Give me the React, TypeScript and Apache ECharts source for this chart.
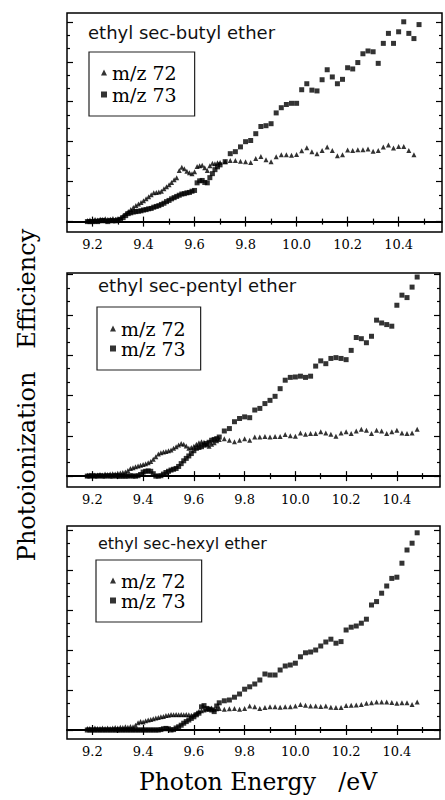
import React, { useEffect, useRef } from "react";
import * as echarts from "echarts";

// Photon energy grid (eV)
const ENERGY = [
  9.18, 9.19, 9.2, 9.21, 9.22, 9.23, 9.24, 9.25, 9.26, 9.27, 9.28, 9.29, 9.3, 9.31,
  9.32, 9.33, 9.34, 9.35, 9.36, 9.37, 9.38, 9.39, 9.4, 9.41,
  9.42, 9.43, 9.44, 9.45, 9.46, 9.47, 9.48, 9.49, 9.5, 9.51,
  9.52, 9.53, 9.54, 9.55, 9.56, 9.57, 9.58, 9.59, 9.6, 9.61,
  9.62, 9.63, 9.64, 9.65, 9.66, 9.67, 9.68, 9.69, 9.7,
  9.72, 9.74, 9.76, 9.78, 9.8, 9.82, 9.84, 9.86, 9.88, 9.9,
  9.92, 9.94, 9.96, 9.98, 10.0, 10.02, 10.04, 10.06, 10.08, 10.1,
  10.12, 10.14, 10.16, 10.18, 10.2, 10.22, 10.24, 10.26, 10.28, 10.3,
  10.32, 10.34, 10.36, 10.38, 10.4, 10.42, 10.44, 10.46, 10.48,
];

// ethyl sec-butyl ether
const BUTYL_72 = [
  0.03, 0.04, 0.03, 0.05, 0.04, 0.06, 0.05, 0.07, 0.05, 0.06, 0.08, 0.06, 0.08, 0.1,
  0.15, 0.2, 0.25, 0.3, 0.35, 0.4, 0.44, 0.48, 0.52, 0.57,
  0.62, 0.67, 0.72, 0.73, 0.74, 0.76, 0.82, 0.87, 0.92, 0.98,
  1.05, 1.1, 1.28, 1.36, 1.32, 1.26, 1.22, 1.2, 1.25, 1.38,
  1.4, 1.41, 1.35, 1.28, 1.4, 1.46, 1.45, 1.47, 1.48,
  1.5, 1.53, 1.53, 1.51, 1.5, 1.48, 1.58, 1.63, 1.55, 1.5,
  1.62, 1.67, 1.67, 1.66, 1.68, 1.77, 1.85, 1.75, 1.7, 1.78,
  1.87, 1.78, 1.65, 1.67, 1.79, 1.78, 1.8, 1.8, 1.82, 1.76,
  1.78, 1.87, 1.92, 1.84, 1.88, 1.88, 1.78, 1.67, null,
];
const BUTYL_73 = [
  0.0, 0.0, 0.0, 0.01, 0.0, 0.02, 0.03, 0.02, 0.0, 0.03, 0.02, 0.02, 0.04, 0.05,
  0.1, 0.15, 0.2, 0.22, 0.24, 0.25, 0.26, 0.27, 0.29, 0.3,
  0.32, 0.33, 0.36, 0.38, 0.4, 0.43, 0.46, 0.5, 0.53, 0.57,
  0.6, 0.63, 0.66, 0.69, 0.7, 0.72, 0.73, 0.76, 0.78, 0.97,
  1.02, 1.03, 0.98, 0.97, 1.1, 1.2, 1.3, 1.37, 1.42,
  1.5, 1.7, 1.75, 1.87, 2.0, 2.03, 2.2, 2.38, 2.4, 2.45,
  2.72, 2.85, 2.93, 2.96, 2.96, 3.3, 3.45, 3.29, 3.27, 3.55,
  3.8, 3.62, 3.45, 3.56, 3.85, 3.82, 3.98, 4.2, 4.27, 4.25,
  3.96, 4.46, 4.71, 4.46, 4.75, 5.0, 4.71, 4.58, 4.93,
];

// ethyl sec-pentyl ether
const PENTYL_72 = [
  0.02, 0.03, 0.02, 0.03, 0.03, 0.04, 0.03, 0.05, 0.04, 0.05, 0.06, 0.05, 0.07, 0.08,
  0.09, 0.1, 0.14, 0.19, 0.21, 0.23, 0.25, 0.27, 0.29, 0.31,
  0.33, 0.36, 0.42, 0.48, 0.55, 0.58, 0.6, 0.61, 0.63, 0.65,
  0.69, 0.73, 0.77, 0.81, 0.79, 0.75, 0.69, 0.71, 0.74, 0.79,
  0.83, 0.85, 0.84, 0.78, 0.74, 0.79, 0.83, 0.88, 0.91,
  0.93, 0.89, 0.85, 0.89, 0.93, 0.89, 0.97, 0.97, 0.98, 0.97,
  0.98, 0.98, 1.03, 1.0, 0.99, 1.07, 1.04, 1.06, 1.06, 1.1,
  1.07, 1.04, 0.99, 1.07, 1.1, 1.06, 1.12, 1.16, 1.14, 1.06,
  1.14, 1.12, 1.06, 1.1, 1.14, 1.07, 1.06, 1.07, 1.16,
];
const PENTYL_73 = [
  0, 0, 0.01, 0, 0, 0.01, 0, 0, 0.01, 0, 0, 0.01, 0, 0,
  0, 0, 0, 0.01, 0, 0, 0.01, 0.04, 0.1, 0.12,
  0.13, 0.12, 0.06, 0.0, 0.0, 0.01, 0.05, 0.09, 0.12, 0.15,
  0.17, 0.19, 0.24, 0.31, 0.38, 0.44, 0.5, 0.56, 0.63, 0.69,
  0.71, 0.73, 0.77, 0.81, 0.84, 0.89, 0.91, 0.93, 0.97,
  1.12, 1.18, 1.35, 1.43, 1.47, 1.45, 1.64, 1.68, 1.8, 1.88,
  1.98, 2.17, 2.38, 2.45, 2.46, 2.48, 2.45, 2.48, 2.73, 2.86,
  2.79, 2.92, 2.94, 2.92, 2.89, 3.12, 3.44, 3.41, 3.31, 3.47,
  3.87, 3.8, 3.76, 3.72, 4.24, 4.49, 4.43, 4.69, 4.94,
];

// ethyl sec-hexyl ether
const HEXYL_72 = [
  0.04, 0.04, 0.04, 0.05, 0.04, 0.04, 0.05, 0.04, 0.05, 0.04, 0.05, 0.06, 0.05, 0.07,
  0.06, 0.08, 0.07, 0.09, 0.08, 0.12, 0.18, 0.21, 0.2, 0.23,
  0.25, 0.26, 0.28, 0.3, 0.31, 0.33, 0.34, 0.36, 0.37, 0.39,
  0.38, 0.39, 0.38, 0.39, 0.38, 0.39, 0.38, 0.37, 0.38, 0.42,
  0.46, 0.48, 0.5, 0.52, 0.54, 0.55, 0.52, 0.53, 0.54,
  0.52, 0.53, 0.54, 0.52, 0.54, 0.6, 0.58, 0.54, 0.56, 0.58,
  0.58, 0.57, 0.58, 0.58, 0.6, 0.64, 0.62, 0.6, 0.6, 0.59,
  0.6, 0.57, 0.56, 0.56, 0.61, 0.62, 0.625, 0.64, 0.67, 0.68,
  0.7, 0.7, 0.7, 0.69, 0.67, 0.68, 0.68, 0.64, 0.7,
];
const HEXYL_73 = [
  0, 0, 0, 0, 0, 0, 0, 0, 0, 0, 0, 0, 0, 0,
  0, 0, 0, 0, 0, 0, 0, 0, 0, 0,
  0, 0, 0, 0, 0, 0.01, 0.03, 0.04, 0.03, 0.0,
  0.01, 0.05, 0.08, 0.12, 0.17, 0.21, 0.25, 0.29, 0.33, 0.38,
  0.42, 0.58, 0.61, 0.54, 0.52, 0.5, 0.46, 0.6, 0.68,
  0.73, 0.75, 0.82, 0.9, 1.02, 1.08, 1.15, 1.25, 1.4, 1.375,
  1.375, 1.5, 1.6, 1.625, 1.67, 1.83, 1.93, 1.95, 2.0, 2.1,
  2.2, 2.27, 2.17, 2.21, 2.5, 2.57, 2.6, 2.67, 2.77, 3.125,
  3.21, 3.42, 3.6, 3.79, 3.82, 4.17, 4.5, 4.67, 4.93,
];

const TITLES = ["ethyl sec-butyl ether", "ethyl sec-pentyl ether", "ethyl sec-hexyl ether"];
const SERIES_NAMES = ["m/z 72", "m/z 73"];
const X_MAJOR_TICKS = [9.2, 9.4, 9.6, 9.8, 10.0, 10.2, 10.4];
const X_MINOR_TICKS = [9.3, 9.5, 9.7, 9.9, 10.1, 10.3, 10.5];
const Y_MAJOR_TICKS = [0, 1, 2, 3, 4, 5];
const Y_MINOR_TICKS = [0.333, 0.667, 1.333, 1.667, 2.333, 2.667, 3.333, 3.667, 4.333, 4.667];
const X_AXIS_TITLE = "Photon Energy   /eV";
const Y_AXIS_TITLE = "Photoionization   Efficiency";

const PANEL_DATA = [
  [BUTYL_72, BUTYL_73],
  [PENTYL_72, PENTYL_73],
  [HEXYL_72, HEXYL_73],
];

// layout (pixels)
const LAYOUT = [
  { left: 67, top: 13, width: 375, height: 219, yMin: -0.26, yMax: 5.22, tL: 88, tT: 23, tS: 18, lL: 89, lT: 52, lPad: [11, 18, 12, 12], lGap: 3 },
  { left: 67, top: 273, width: 373, height: 214, yMin: -0.27, yMax: 5.04, tL: 98, tT: 276, tS: 18, lL: 97, lT: 307, lPad: [12, 15, 12, 13], lGap: 1 },
  { left: 67, top: 526, width: 373, height: 213, yMin: -0.225, yMax: 5.1, tL: 98, tT: 535, tS: 16, lL: 96, lT: 560, lPad: [11, 16, 12, 14], lGap: 1 },
];
const X_MIN = 9.1;
const X_MAX = 10.57;

function pairs(values: (number | null)[]) {
  const out: number[][] = [];
  values.forEach((v, i) => {
    if (v !== null && v !== undefined) out.push([ENERGY[i], v]);
  });
  return out;
}

export default function App() {
  const ref = useRef<HTMLDivElement>(null);
  useEffect(() => {
    if (!ref.current) return;
    const chart = echarts.init(ref.current, undefined, { renderer: "svg" });
    const tickStyle = { color: "#000", width: 1.2 };
    const grid: any[] = [];
    const xAxis: any[] = [];
    const yAxis: any[] = [];
    const series: any[] = [];
    const title: any[] = [];
    const legend: any[] = [];
    LAYOUT.forEach((L, p) => {
      grid.push({
        left: L.left, top: L.top, width: L.width, height: L.height,
        show: true, borderColor: "#000", borderWidth: 1.5, backgroundColor: "transparent",
      });
      const xBase = { type: "value", gridIndex: p, min: X_MIN, max: X_MAX, splitLine: { show: false } };
      xAxis.push({
        ...xBase, position: "bottom",
        axisLine: { show: true, lineStyle: { color: "#000", width: 2 } },
        axisTick: { show: true, inside: true, length: 5, customValues: X_MAJOR_TICKS, lineStyle: tickStyle },
        axisLabel: {
          show: true, customValues: X_MAJOR_TICKS, margin: 6,
          formatter: (v: number) => v.toFixed(1),
          fontFamily: "DejaVu Serif", fontSize: 13, color: "#000",
        },
      });
      xAxis.push({
        ...xBase, position: "bottom", axisLine: { show: false },
        axisTick: { show: true, inside: true, length: 3, customValues: X_MINOR_TICKS, lineStyle: tickStyle },
        axisLabel: { show: false },
      });
      xAxis.push({
        ...xBase, position: "top", axisLine: { show: false },
        axisTick: { show: true, inside: true, length: 5, customValues: X_MAJOR_TICKS, lineStyle: tickStyle },
        axisLabel: { show: false },
      });
      xAxis.push({
        ...xBase, position: "top", axisLine: { show: false },
        axisTick: { show: true, inside: true, length: 3, customValues: X_MINOR_TICKS, lineStyle: tickStyle },
        axisLabel: { show: false },
      });
      const yBase = { type: "value", gridIndex: p, min: L.yMin, max: L.yMax, splitLine: { show: false }, axisLine: { show: false }, axisLabel: { show: false } };
      const yMinor = Y_MINOR_TICKS.filter((t) => t < L.yMax);
      yAxis.push({ ...yBase, position: "left", axisTick: { show: true, inside: true, length: 6, customValues: Y_MAJOR_TICKS, lineStyle: tickStyle } });
      yAxis.push({ ...yBase, position: "left", axisTick: { show: true, inside: true, length: 3, customValues: yMinor, lineStyle: tickStyle } });
      yAxis.push({ ...yBase, position: "right", axisTick: { show: true, inside: true, length: 6, customValues: Y_MAJOR_TICKS, lineStyle: tickStyle } });
      yAxis.push({ ...yBase, position: "right", axisTick: { show: true, inside: true, length: 3, customValues: yMinor, lineStyle: tickStyle } });

      const [s72, s73] = PANEL_DATA[p];
      series.push({
        type: "scatter", name: SERIES_NAMES[0], xAxisIndex: p * 4, yAxisIndex: p * 4,
        symbol: "triangle", symbolSize: 5, itemStyle: { color: "#000" }, data: pairs(s72),
      });
      series.push({
        type: "scatter", name: SERIES_NAMES[1], xAxisIndex: p * 4, yAxisIndex: p * 4,
        symbol: "rect", symbolSize: 5, itemStyle: { color: "#000" }, data: pairs(s73),
      });
      title.push({
        text: TITLES[p], left: L.tL, top: L.tT, padding: 0,
        textStyle: { fontFamily: "DejaVu Sans", fontSize: L.tS, fontWeight: "normal", color: "#111" },
      });
      legend.push({
        orient: "vertical", left: L.lL, top: L.lT, padding: L.lPad, itemGap: L.lGap,
        itemWidth: 6, itemHeight: 6, itemTextGap: 16, selectedMode: false,
        borderColor: "#222", borderWidth: 1.2,
        textStyle: { fontFamily: "DejaVu Serif", fontSize: 19, color: "#000", lineHeight: 19 },
        data: [
          { name: SERIES_NAMES[0], icon: "triangle" },
          { name: SERIES_NAMES[1], icon: "rect" },
        ],
      });
    });

    chart.setOption({
      animation: false,
      backgroundColor: "#fff",
      grid, xAxis, yAxis, series, title, legend,
      graphic: [
        {
          type: "text", x: 27, y: 395, rotation: Math.PI / 2,
          style: {
            text: Y_AXIS_TITLE, font: '24px "DejaVu Serif"', fill: "#000",
            align: "center", verticalAlign: "middle", textAlign: "center", textVerticalAlign: "middle",
          },
        },
        {
          type: "text", x: 258, y: 782,
          style: {
            text: X_AXIS_TITLE, font: '23.5px "DejaVu Serif"', fill: "#000",
            align: "center", verticalAlign: "middle", textAlign: "center", textVerticalAlign: "middle",
          },
        },
      ],
    });
    return () => chart.dispose();
  }, []);
  return <div ref={ref} style={{ position: "absolute", left: 0, top: 0, width: 445, height: 800 }} />;
}
